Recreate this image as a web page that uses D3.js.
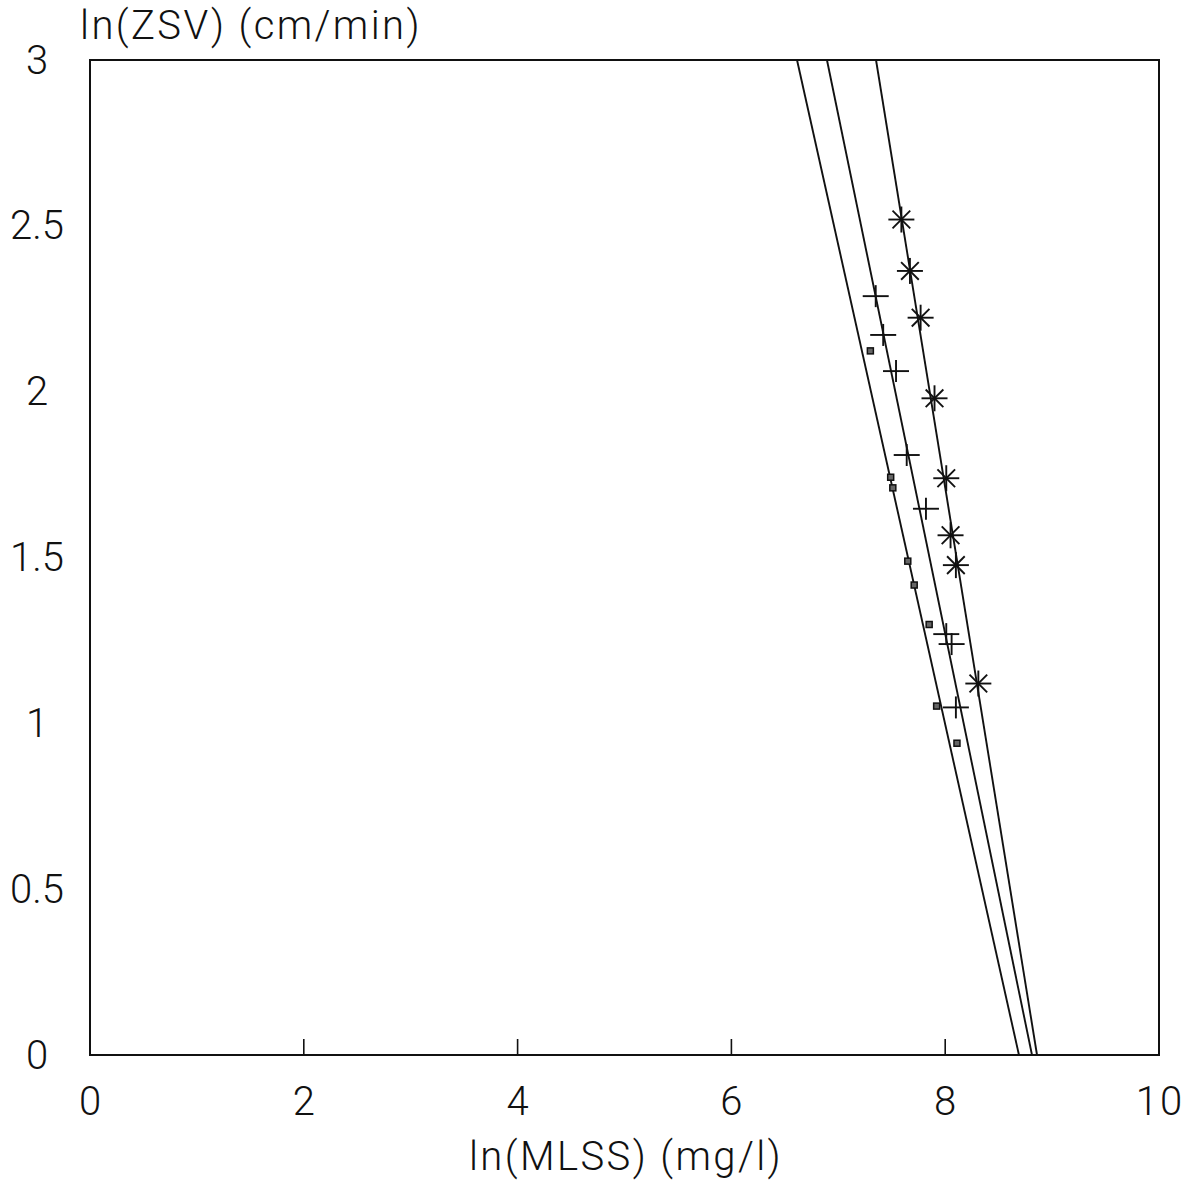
<!DOCTYPE html>
<html>
<head>
<meta charset="utf-8">
<script src="https://cdn.jsdelivr.net/npm/d3@7"></script>
<style>
  html, body { margin: 0; padding: 0; background: #fff; }
  svg text { font-family: "Roboto", "Liberation Sans", sans-serif; font-weight: 300; fill: #111; }
</style>
</head>
<body>
<svg id="chart" width="1188" height="1182"></svg>
<script>
// Settling-velocity data: ln(ZSV) against ln(MLSS) for three sludges
const squareX = [7.30, 7.49, 7.51, 7.65, 7.71, 7.85, 7.92, 8.11];
const squareY = [2.123, 1.742, 1.710, 1.489, 1.417, 1.298, 1.052, 0.940];

const plusX = [7.35, 7.42, 7.54, 7.64, 7.82, 8.01, 8.06, 8.10];
const plusY = [2.288, 2.171, 2.062, 1.809, 1.647, 1.269, 1.239, 1.048];

const starX = [7.59, 7.67, 7.77, 7.90, 8.01, 8.05, 8.10, 8.31];
const starY = [2.519, 2.364, 2.223, 1.980, 1.739, 1.567, 1.477, 1.120];

// Fitted lines: ln(ZSV) = k - n * ln(MLSS)
const fitK = [12.557, 13.782, 17.647];
const fitN = [1.445, 1.564, 1.992];

const xTicks = [0, 2, 4, 6, 8, 10];
const yTicks = [0, 0.5, 1, 1.5, 2, 2.5, 3];
const xTitle = "ln(MLSS) (mg/l)";
const yTitle = "ln(ZSV) (cm/min)";

const svg = d3.select("#chart");
const plotLeft = 90, plotRight = 1159, plotTop = 60, plotBottom = 1055;

const x = d3.scaleLinear().domain([0, 10]).range([plotLeft, plotRight]);
const y = d3.scaleLinear().domain([0, 3]).range([plotBottom, plotTop]);

// Plot frame
svg.append("rect")
  .attr("x", plotLeft).attr("y", plotTop)
  .attr("width", plotRight - plotLeft).attr("height", plotBottom - plotTop)
  .attr("fill", "none").attr("stroke", "#111").attr("stroke-width", 2);

// Inward tick marks on the bottom axis (interior values only)
svg.append("g").selectAll("line")
  .data(xTicks.filter(t => t > 0 && t < 10))
  .join("line")
  .attr("x1", d => x(d)).attr("x2", d => x(d))
  .attr("y1", plotBottom).attr("y2", plotBottom - 16)
  .attr("stroke", "#111").attr("stroke-width", 1.6);

// Tick labels
svg.append("g").selectAll("text")
  .data(xTicks)
  .join("text")
  .attr("x", d => x(d) + 1).attr("y", 1101)
  .attr("text-anchor", "middle").attr("dominant-baseline", "central")
  .attr("font-size", 40).attr("letter-spacing", 2)
  .text(d => d3.format("~g")(d));

svg.append("g").selectAll("text")
  .data(yTicks)
  .join("text")
  .attr("x", 37).attr("y", d => y(d))
  .attr("text-anchor", "middle").attr("dominant-baseline", "central")
  .attr("font-size", 40)
  .text(d => d3.format("~g")(d));

// Axis titles
svg.append("text")
  .attr("x", 626).attr("y", 1156)
  .attr("text-anchor", "middle").attr("dominant-baseline", "central")
  .attr("font-size", 40).attr("letter-spacing", 2.4)
  .text(xTitle);

svg.append("text")
  .attr("x", 80).attr("y", 25)
  .attr("text-anchor", "start").attr("dominant-baseline", "central")
  .attr("font-size", 40).attr("letter-spacing", 2.4)
  .text(yTitle);

// Fitted lines, drawn between where they cross y = 3 and y = 0
const line = d3.line().x(d => x(d[0])).y(d => y(d[1]));
fitK.forEach((k, i) => {
  const n = fitN[i];
  const pts = [[(k - 3) / n, 3], [k / n, 0]];
  svg.append("path")
    .attr("d", line(pts))
    .attr("fill", "none").attr("stroke", "#111").attr("stroke-width", 1.9);
});

// Square markers
svg.append("g").selectAll("rect")
  .data(squareX.map((v, i) => [v, squareY[i]]))
  .join("rect")
  .attr("x", d => x(d[0]) - 3).attr("y", d => y(d[1]) - 3)
  .attr("width", 6).attr("height", 6)
  .attr("fill", "#666").attr("stroke", "#111").attr("stroke-width", 1.5);

// Plus markers (wider than tall)
const plusG = svg.append("g").attr("stroke", "#111").attr("stroke-width", 1.9);
plusX.forEach((v, i) => {
  const cx = x(v), cy = y(plusY[i]);
  plusG.append("line").attr("x1", cx - 13).attr("x2", cx + 13).attr("y1", cy).attr("y2", cy);
  plusG.append("line").attr("x1", cx).attr("x2", cx).attr("y1", cy - 11).attr("y2", cy + 11);
});

// Eight-armed asterisk markers
const starG = svg.append("g").attr("stroke", "#111").attr("stroke-width", 1.9);
starX.forEach((v, i) => {
  const cx = x(v), cy = y(starY[i]);
  d3.range(4).forEach(j => {
    const a = j * Math.PI / 4;
    const r = j % 2 === 0 ? 13 : 12.5;
    starG.append("line")
      .attr("x1", cx - r * Math.cos(a)).attr("y1", cy - r * Math.sin(a))
      .attr("x2", cx + r * Math.cos(a)).attr("y2", cy + r * Math.sin(a));
  });
});
</script>
</body>
</html>
